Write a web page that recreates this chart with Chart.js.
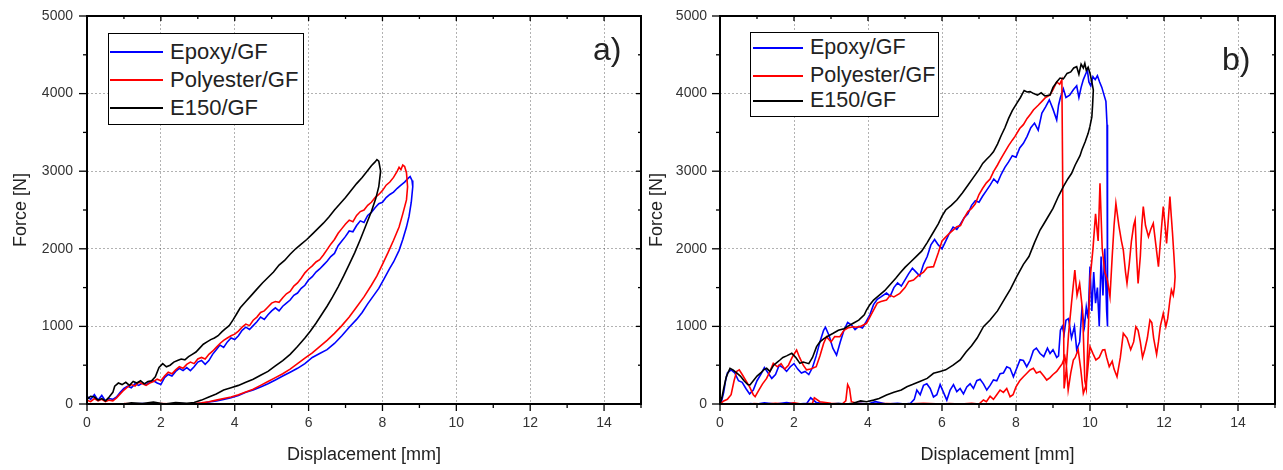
<!DOCTYPE html>
<html><head><meta charset="utf-8">
<script src="https://cdn.jsdelivr.net/npm/chart.js@4.4.0/dist/chart.umd.min.js"></script>
<style>
html,body{margin:0;padding:0;background:#fff;}
#wrap{position:relative;width:1283px;height:470px;overflow:hidden;font-family:"Liberation Sans",Arial,sans-serif;background:#fff;}
canvas{position:absolute;top:0;}
.lgbox{position:absolute;border:1px solid #000;background:#fff;box-sizing:border-box;}
.lgline{position:absolute;height:0;border-top:2px solid;}
.lgtext{position:absolute;white-space:nowrap;color:#222;line-height:1;transform:translateY(-50%);}
.plabel{position:absolute;color:#222;line-height:1;white-space:nowrap;}
</style></head>
<body>
<div id="wrap">
<canvas id="ca" width="650" height="470" style="left:0"></canvas>
<canvas id="cb" width="642" height="470" style="left:641px"></canvas>
</div>
<script>
// ---------- DATA ----------
const seriesNames = ['Epoxy/GF', 'Polyester/GF', 'E150/GF'];
const seriesColors = ['#0000ff', '#ff0000', '#000000'];
const xTitle = 'Displacement [mm]';
const yTitle = 'Force [N]';
const panelLabels = ['a)', 'b)'];

// panel a) : [displacement mm, force N]
const aEpoxy = [[0,100],[0.1,60],[0.2,120],[0.3,50],[0.4,110],[0.5,40],[0.6,70],[0.7,60],[0.8,90],[0.9,150],[1.0,200],[1.1,230],[1.2,210],[1.3,260],[1.4,240],[1.5,270],[1.6,250],[1.7,280],[1.8,300],[1.9,270],[2.0,250],[2.1,340],[2.2,380],[2.3,360],[2.4,420],[2.5,460],[2.6,430],[2.7,470],[2.8,430],[2.9,480],[3.0,540],[3.1,560],[3.2,510],[3.3,560],[3.4,640],[3.5,700],[3.6,760],[3.7,730],[3.8,800],[3.9,850],[4.0,830],[4.1,880],[4.2,950],[4.3,990],[4.4,960],[4.5,1010],[4.6,1060],[4.7,1120],[4.8,1090],[4.9,1150],[5.0,1200],[5.1,1240],[5.2,1200],[5.3,1260],[5.4,1300],[5.5,1340],[5.6,1400],[5.7,1430],[5.8,1490],[5.9,1530],[6.0,1600],[6.1,1640],[6.2,1700],[6.3,1740],[6.4,1790],[6.5,1840],[6.6,1900],[6.7,1940],[6.8,2040],[6.9,2100],[7.0,2160],[7.1,2230],[7.2,2220],[7.3,2300],[7.4,2360],[7.5,2340],[7.6,2430],[7.7,2470],[7.8,2530],[7.9,2580],[8.0,2600],[8.1,2660],[8.2,2700],[8.3,2730],[8.4,2780],[8.5,2820],[8.6,2860],[8.7,2910],[8.75,2930],
  [8.8,2880],[8.82,2800],[8.78,2600],[8.72,2420],[8.65,2280],[8.55,2120],[8.45,1980],[8.3,1830],[8.2,1750],[8.05,1620],[7.9,1490],[7.75,1390],[7.6,1290],[7.45,1180],[7.3,1090],[7.1,990],[6.9,880],[6.7,780],[6.5,700],[6.3,650],[6.1,600],[5.9,520],[5.7,460],[5.5,410],[5.3,360],[5.1,310],[4.9,260],[4.7,220],[4.5,180],[4.3,150],[4.1,110],[3.9,80],[3.7,60],[3.5,40],[3.3,25],[3.1,10],[2.9,0],[2.5,5],[2.0,0],[1.5,5],[1.0,0]];
const aPolyester = [[0,50],[0.1,30],[0.2,70],[0.3,40],[0.4,60],[0.5,30],[0.6,50],[0.7,40],[0.8,80],[0.9,130],[1.0,180],[1.1,220],[1.2,250],[1.3,230],[1.4,280],[1.5,260],[1.6,240],[1.7,270],[1.8,290],[1.9,320],[2.0,300],[2.1,360],[2.2,410],[2.3,390],[2.4,440],[2.5,480],[2.6,460],[2.7,510],[2.8,540],[2.9,520],[3.0,580],[3.1,600],[3.2,580],[3.3,640],[3.4,680],[3.5,730],[3.6,780],[3.7,820],[3.8,850],[3.9,880],[4.0,900],[4.1,940],[4.2,990],[4.3,1030],[4.4,1010],[4.5,1080],[4.6,1120],[4.7,1180],[4.8,1200],[4.9,1250],[5.0,1300],[5.1,1320],[5.2,1310],[5.3,1370],[5.4,1420],[5.5,1450],[5.6,1520],[5.7,1560],[5.8,1620],[5.9,1690],[6.0,1740],[6.1,1780],[6.2,1830],[6.3,1860],[6.4,1920],[6.5,1990],[6.6,2060],[6.7,2120],[6.8,2200],[6.9,2260],[7.0,2320],[7.1,2370],[7.2,2350],[7.3,2430],[7.4,2480],[7.5,2500],[7.6,2560],[7.7,2600],[7.8,2660],[7.9,2700],[8.0,2750],[8.1,2820],[8.2,2860],[8.3,2920],[8.4,3000],[8.45,3050],[8.5,3020],[8.55,3080],[8.6,3060],
  [8.65,2980],[8.68,2800],[8.65,2630],[8.55,2450],[8.45,2280],[8.3,2110],[8.15,1950],[8.0,1800],[7.85,1650],[7.7,1530],[7.5,1380],[7.3,1250],[7.1,1120],[6.9,1010],[6.7,910],[6.5,820],[6.3,740],[6.1,660],[5.9,590],[5.7,520],[5.5,450],[5.3,390],[5.1,340],[4.9,290],[4.7,240],[4.5,190],[4.3,155],[4.1,120],[3.9,90],[3.7,70],[3.5,50],[3.3,30],[3.1,15],[2.9,5],[2.5,0],[2.0,5],[1.5,0],[1.0,5]];
const aE150 = [[0,60],[0.1,100],[0.2,90],[0.3,50],[0.4,70],[0.5,40],[0.6,90],[0.7,150],[0.75,230],[0.85,270],[0.95,250],[1.05,280],[1.15,240],[1.25,290],[1.35,270],[1.45,300],[1.55,260],[1.65,290],[1.75,300],[1.85,350],[1.95,470],[2.05,520],[2.15,480],[2.25,500],[2.35,540],[2.45,560],[2.55,580],[2.65,570],[2.75,610],[2.85,640],[2.95,670],[3.05,720],[3.15,770],[3.25,800],[3.35,830],[3.45,850],[3.55,880],[3.65,930],[3.75,970],[3.85,1010],[3.95,1080],[4.05,1160],[4.15,1240],[4.3,1320],[4.45,1400],[4.6,1480],[4.75,1560],[4.9,1630],[5.05,1700],[5.2,1790],[5.35,1850],[5.5,1930],[5.65,2000],[5.8,2060],[5.95,2120],[6.1,2190],[6.25,2260],[6.4,2330],[6.55,2410],[6.7,2500],[6.85,2580],[7.0,2660],[7.15,2750],[7.3,2840],[7.45,2920],[7.6,3010],[7.7,3070],[7.8,3120],[7.85,3150],[7.9,3130],
  [7.95,3000],[7.9,2800],[7.82,2650],[7.7,2480],[7.55,2300],[7.4,2120],[7.25,1950],[7.1,1800],[6.95,1650],[6.8,1510],[6.65,1380],[6.5,1260],[6.35,1150],[6.2,1040],[6.05,940],[5.9,850],[5.7,740],[5.5,640],[5.3,560],[5.1,490],[4.9,420],[4.7,370],[4.5,320],[4.3,280],[4.1,240],[3.9,210],[3.7,180],[3.5,130],[3.3,90],[3.1,50],[2.9,20],[2.7,10],[2.4,20],[2.1,0],[1.8,25],[1.5,5],[1.2,15],[1.0,0]];

// panel b)
const bEpoxy = [[0,0],[0.05,50],[0.1,150],[0.15,300],[0.2,400],[0.3,440],[0.4,400],[0.5,300],[0.6,280],[0.7,200],[0.8,130],[0.9,180],[1.0,300],[1.1,380],[1.2,470],[1.3,400],[1.4,330],[1.5,380],[1.6,500],[1.7,470],[1.8,420],[1.9,480],[2.0,520],[2.1,450],[2.2,400],[2.3,420],[2.4,380],[2.5,470],[2.6,620],[2.7,800],[2.8,950],[2.85,990],[2.95,880],[3.05,720],[3.15,630],[3.25,800],[3.35,950],[3.45,1050],[3.55,1020],[3.65,960],[3.75,1000],[3.85,980],[3.95,1060],[4.05,1150],[4.15,1280],[4.25,1350],[4.35,1380],[4.5,1430],[4.6,1390],[4.7,1500],[4.8,1560],[4.9,1520],[5.0,1600],[5.1,1680],[5.2,1750],[5.3,1700],[5.4,1650],[5.5,1800],[5.6,1900],[5.7,2050],[5.8,2120],[5.9,2050],[6.0,2000],[6.1,2100],[6.2,2200],[6.3,2280],[6.4,2250],[6.5,2320],[6.6,2400],[6.7,2450],[6.8,2560],[6.9,2620],[7.0,2600],[7.1,2680],[7.2,2750],[7.3,2820],[7.4,2900],[7.5,2850],[7.6,2960],[7.7,3050],[7.8,3120],[7.9,3200],[8.0,3180],[8.1,3300],[8.2,3360],[8.3,3450],[8.4,3560],[8.5,3620],[8.6,3530],[8.7,3750],[8.8,3830],[8.9,3920],[9.0,3800],[9.1,3660],[9.15,3850],[9.2,3950],[9.28,4060],[9.35,3950],[9.45,3980],[9.55,4050],[9.64,4100],[9.7,3950],[9.76,4080],[9.82,4180],[9.88,4250],[9.93,4300],[9.97,4150],[10.02,4100],[10.08,4220],[10.14,4180],[10.2,4230],[10.26,4150],[10.32,4080],[10.38,3980],[10.43,3900],[10.46,3600],[10.47,2500],[10.48,1500],[10.47,1000],
  [10.45,1200],[10.4,2000],[10.35,1400],[10.3,1900],[10.25,1000],[10.2,1500],[10.15,1300],[10.1,1700],[10.05,1200],[10.0,1770],[9.95,1100],[9.9,1250],[9.85,1000],[9.78,1210],[9.72,800],[9.64,700],[9.58,1000],[9.5,850],[9.42,1100],[9.35,1080],[9.3,900],[9.25,1000],[9.2,950],[9.15,620],[9.1,600],[9.0,700],[8.92,650],[8.85,720],[8.75,610],[8.65,650],[8.55,720],[8.47,690],[8.38,560],[8.29,480],[8.2,560],[8.11,570],[8.02,460],[7.93,350],[7.84,460],[7.75,480],[7.66,400],[7.57,390],[7.48,300],[7.39,310],[7.3,240],[7.21,180],[7.12,260],[7.03,320],[6.94,300],[6.85,200],[6.76,260],[6.67,220],[6.58,130],[6.49,200],[6.4,160],[6.31,250],[6.22,180],[6.13,50],[6.04,150],[5.95,250],[5.86,120],[5.77,90],[5.68,200],[5.59,260],[5.5,240],[5.41,120],[5.32,180],[5.25,60],[5.15,10],[5.0,0],[4.8,10],[4.5,0],[4.2,30],[4.0,0],[3.8,10],[3.5,0],[3.2,5],[2.9,0],[2.6,20],[2.45,80],[2.35,10],[2.1,0],[1.8,20],[1.5,0],[1.2,15],[1.0,0],[0.8,5]];
const bPolyester = [[0,0],[0.1,40],[0.2,60],[0.3,120],[0.38,300],[0.45,420],[0.52,440],[0.6,380],[0.7,300],[0.8,220],[0.9,120],[0.95,94],[1.05,180],[1.15,260],[1.26,330],[1.35,420],[1.44,524],[1.55,480],[1.65,520],[1.75,450],[1.85,500],[1.95,600],[2.07,696],[2.15,600],[2.25,500],[2.34,440],[2.45,450],[2.6,480],[2.7,620],[2.8,780],[2.88,867],[3.0,800],[3.1,870],[3.24,867],[3.35,950],[3.45,980],[3.6,996],[3.7,990],[3.8,1000],[3.96,1040],[4.05,1120],[4.15,1211],[4.25,1300],[4.35,1320],[4.5,1340],[4.6,1400],[4.7,1380],[4.86,1426],[5.0,1500],[5.1,1580],[5.23,1598],[5.35,1650],[5.5,1700],[5.6,1760],[5.77,1770],[5.9,1950],[6.0,2100],[6.1,2150],[6.2,2200],[6.3,2240],[6.4,2285],[6.5,2300],[6.6,2400],[6.7,2480],[6.8,2520],[6.9,2580],[7.0,2700],[7.1,2780],[7.2,2850],[7.3,2900],[7.4,3000],[7.5,3080],[7.57,3144],[7.7,3250],[7.8,3330],[7.9,3400],[7.97,3445],[8.1,3550],[8.2,3600],[8.3,3680],[8.4,3740],[8.47,3789],[8.6,3850],[8.7,3900],[8.8,3950],[8.92,3982],[9.0,4050],[9.1,4150],[9.18,4120],[9.24,4180],
  [9.26,3000],[9.28,1500],[9.3,200],
  [9.35,400],[9.42,900],[9.5,1300],[9.59,1727],[9.65,1400],[9.72,1550],[9.8,1200],[9.86,300],[9.9,200],[9.95,900],[10.0,1600],[10.08,2000],[10.15,2450],[10.22,2100],[10.27,2844],[10.33,2000],[10.4,1700],[10.47,1600],[10.54,1383],[10.6,1900],[10.65,2300],[10.7,2586],[10.78,2300],[10.85,2100],[10.9,1985],[10.96,1700],[11.0,1555],[11.06,1800],[11.12,2100],[11.18,2300],[11.22,2371],[11.26,1900],[11.3,1555],[11.36,1900],[11.4,2300],[11.44,2543],[11.5,2300],[11.58,2156],[11.64,2250],[11.71,2328],[11.78,2050],[11.85,1770],[11.92,2200],[11.98,2543],[12.03,2300],[12.07,2070],[12.12,2400],[12.16,2672],[12.2,2400],[12.23,2200],[12.27,1900],[12.3,1640],
  [12.28,1500],[12.25,1400],[12.2,1470],[12.16,1340],[12.1,1100],[12.05,996],[11.98,1168],[11.9,1000],[11.85,800],[11.8,640],[11.72,850],[11.67,1050],[11.62,1082],[11.55,850],[11.48,700],[11.42,600],[11.36,800],[11.3,950],[11.24,996],[11.18,800],[11.1,700],[11.0,850],[10.95,880],[10.9,911],[10.82,600],[10.73,352],[10.65,450],[10.6,550],[10.52,480],[10.45,600],[10.4,700],[10.34,696],[10.25,600],[10.16,567],[10.08,650],[10.0,739],[9.95,500],[9.9,250],[9.82,138],[9.75,450],[9.68,700],[9.6,600],[9.55,567],[9.48,400],[9.41,180],[9.36,500],[9.32,610],[9.25,520],[9.19,480],[9.1,420],[9.0,380],[8.92,340],[8.83,309],[8.75,360],[8.65,420],[8.55,400],[8.47,460],[8.38,438],[8.3,400],[8.2,352],[8.1,300],[8.0,220],[7.92,120],[7.84,94],[7.75,200],[7.66,150],[7.57,180],[7.48,120],[7.39,60],[7.3,100],[7.2,30],[7.12,52],[7.0,0],[6.8,10],[6.5,0],[6.2,5],[6.0,0],[5.5,10],[5.0,0],[4.5,5],[4.0,0],[3.7,10],[3.55,30],[3.5,200],[3.45,250],[3.4,40],[3.3,0],[3.0,10],[2.7,30],[2.55,80],[2.5,10],[2.2,0],[2.0,15],[1.8,0],[1.5,10],[1.2,0],[0.9,5]];
const bE150 = [[0,0],[0.05,80],[0.1,200],[0.17,350],[0.27,460],[0.35,440],[0.45,400],[0.55,360],[0.65,300],[0.75,250],[0.81,245],[0.9,300],[1.0,360],[1.1,400],[1.18,440],[1.26,460],[1.35,420],[1.45,500],[1.55,540],[1.62,567],[1.7,600],[1.8,620],[1.94,653],[2.05,600],[2.16,524],[2.25,540],[2.4,520],[2.5,600],[2.61,739],[2.7,800],[2.8,840],[2.9,870],[3.06,911],[3.2,950],[3.35,970],[3.45,1000],[3.6,1040],[3.75,1080],[3.9,1150],[3.96,1211],[4.05,1280],[4.15,1340],[4.3,1400],[4.45,1460],[4.6,1540],[4.75,1620],[4.86,1684],[5.0,1760],[5.15,1830],[5.3,1900],[5.45,1970],[5.6,2080],[5.75,2200],[5.9,2320],[6.0,2420],[6.1,2500],[6.25,2560],[6.4,2629],[6.55,2720],[6.7,2820],[6.85,2920],[7.0,3020],[7.1,3100],[7.2,3150],[7.3,3200],[7.39,3250],[7.5,3350],[7.6,3460],[7.7,3560],[7.8,3680],[7.9,3780],[8.02,3875],[8.12,3950],[8.22,4040],[8.3,4020],[8.38,4025],[8.48,4000],[8.58,3980],[8.68,4010],[8.78,3970],[8.92,3982],[9.0,4080],[9.1,4150],[9.19,4200],[9.28,4190],[9.38,4260],[9.48,4280],[9.56,4330],[9.64,4347],[9.7,4250],[9.76,4380],[9.82,4330],[9.86,4390],[9.9,4300],[9.95,4340],[10.0,4262],[10.05,4150],[10.09,4046],
  [10.07,3850],[10.05,3700],[10.0,3580],[9.95,3488],[9.87,3380],[9.78,3273],[9.73,3200],[9.6,3080],[9.5,2970],[9.4,2900],[9.28,2800],[9.15,2680],[9.0,2520],[8.85,2400],[8.75,2320],[8.65,2242],[8.5,2080],[8.35,1900],[8.2,1800],[8.02,1640],[7.85,1480],[7.7,1360],[7.5,1200],[7.3,1082],[7.12,996],[6.95,850],[6.8,750],[6.65,670],[6.49,567],[6.3,500],[6.1,440],[5.95,420],[5.77,395],[5.6,330],[5.4,290],[5.2,250],[5.05,223],[4.9,180],[4.7,150],[4.5,116],[4.3,70],[4.15,50],[3.96,30],[3.8,40],[3.6,10],[3.4,0],[3.2,5],[3.0,0]];

// ---------- STYLE / LAYOUT ----------
const FONT = '"Liberation Sans", Arial, sans-serif';
const drawOrder = [2, 1, 0]; // E150 on top

const framePlugin = {
  id: 'frame',
  afterDraw(chart) {
    const {ctx, chartArea: {left, top, right, bottom}, scales: {x, y}} = chart;
    ctx.save();
    ctx.strokeStyle = '#000';
    ctx.lineWidth = 1.3;
    const seg = (x1, y1, x2, y2) => { ctx.beginPath(); ctx.moveTo(x1, y1); ctx.lineTo(x2, y2); ctx.stroke(); };
    for (let v = 0; v <= x.max; v += 1) {
      const px = x.getPixelForValue(v);
      const major = v % 2 === 0;
      seg(px, bottom, px, bottom + (major ? 7 : 4));
      seg(px, top, px, top + (major ? 5 : 3));
    }
    for (let v = 0; v <= y.max; v += 500) {
      const py = y.getPixelForValue(v);
      const major = v % 1000 === 0;
      seg(left - (major ? 8 : 4), py, left, py);
      seg(right, py, right - (major ? 5 : 3), py);
    }
    ctx.lineWidth = 2;
    ctx.strokeRect(left, top, right - left, bottom - top);
    ctx.restore();
  }
};

function makeChart(id, series, o) {
  return new Chart(document.getElementById(id), {
    type: 'scatter',
    data: {
      datasets: series.map((s, i) => ({
        label: seriesNames[i],
        data: s.map(p => ({x: p[0], y: p[1]})),
        showLine: true,
        borderColor: seriesColors[i],
        backgroundColor: seriesColors[i],
        borderWidth: 1.6,
        pointRadius: 0,
        tension: 0,
        order: drawOrder[i]
      }))
    },
    options: {
      responsive: false,
      animation: false,
      events: [],
      layout: {padding: {left: 0, right: o.padRight, top: 16, bottom: 0}},
      plugins: {legend: {display: false}, tooltip: {enabled: false}},
      scales: {
        x: {
          type: 'linear', min: 0, max: 15,
          afterBuildTicks: s => { s.ticks = s.ticks.filter(t => t.value % 2 === 0); },
          afterFit: s => { s.height = 66; },
          ticks: {stepSize: 2, padding: 3, color: '#333', font: {size: 14, family: FONT}, maxRotation: 0, autoSkip: false, callback: v => String(v)},
          grid: {color: 'rgba(0,0,0,0.3)', lineWidth: 1, borderDash: [2, 2], drawTicks: true, tickLength: 8, tickColor: 'rgba(0,0,0,0)', tickBorderDash: []},
          border: {display: false, dash: [2, 2]},
          title: {display: true, text: xTitle, color: '#222', font: {size: 18, family: FONT}, padding: {top: 0, bottom: 4}}
        },
        y: {
          type: 'linear', min: 0, max: 5000,
          afterFit: s => { s.width = o.yWidth; },
          ticks: {stepSize: 1000, padding: o.yTickPad, color: '#333', font: {size: 14, family: FONT}, callback: v => String(v)},
          grid: {color: 'rgba(0,0,0,0.3)', lineWidth: 1, borderDash: [2, 2], drawTicks: true, tickLength: 8, tickColor: 'rgba(0,0,0,0)', tickBorderDash: []},
          border: {display: false, dash: [2, 2]},
          title: {display: true, text: yTitle, color: '#222', font: {size: 18, family: FONT}, padding: {top: o.yTitlePad, bottom: 0}}
        }
      }
    },
    plugins: [framePlugin]
  });
}

makeChart('ca', [aEpoxy, aPolyester, aE150], {padRight: 9, yWidth: 87, yTickPad: 6, yTitlePad: 10});
makeChart('cb', [bEpoxy, bPolyester, bE150], {padRight: 8, yWidth: 79, yTickPad: 5, yTitlePad: 5});

// ---------- HTML legends & panel labels ----------
const wrap = document.getElementById('wrap');
function addLegend(box, rows, lineX, textX, fontSize) {
  const b = document.createElement('div');
  b.className = 'lgbox';
  Object.assign(b.style, {left: box[0] + 'px', top: box[1] + 'px', width: box[2] + 'px', height: box[3] + 'px'});
  wrap.appendChild(b);
  seriesNames.forEach((n, i) => {
    const l = document.createElement('div');
    l.className = 'lgline';
    Object.assign(l.style, {left: lineX[0] + 'px', width: (lineX[1] - lineX[0]) + 'px', top: (rows[i] - 1) + 'px', borderTopColor: seriesColors[i]});
    wrap.appendChild(l);
    const t = document.createElement('div');
    t.className = 'lgtext';
    t.textContent = n;
    Object.assign(t.style, {left: textX + 'px', top: rows[i] + 'px', fontSize: fontSize + 'px'});
    wrap.appendChild(t);
  });
}
addLegend([108, 33, 196, 92], [51.7, 80, 108.3], [110, 163], 170, 22);
addLegend([750, 32, 189, 85], [48.3, 76, 101], [753, 803], 810, 21.5);

function addLabel(text, x, y) {
  const d = document.createElement('div');
  d.className = 'plabel';
  d.textContent = text;
  Object.assign(d.style, {left: x + 'px', top: y + 'px', fontSize: '32px'});
  wrap.appendChild(d);
}
addLabel(panelLabels[0], 593, 33);
addLabel(panelLabels[1], 1222, 43);
</script>
</body></html>
